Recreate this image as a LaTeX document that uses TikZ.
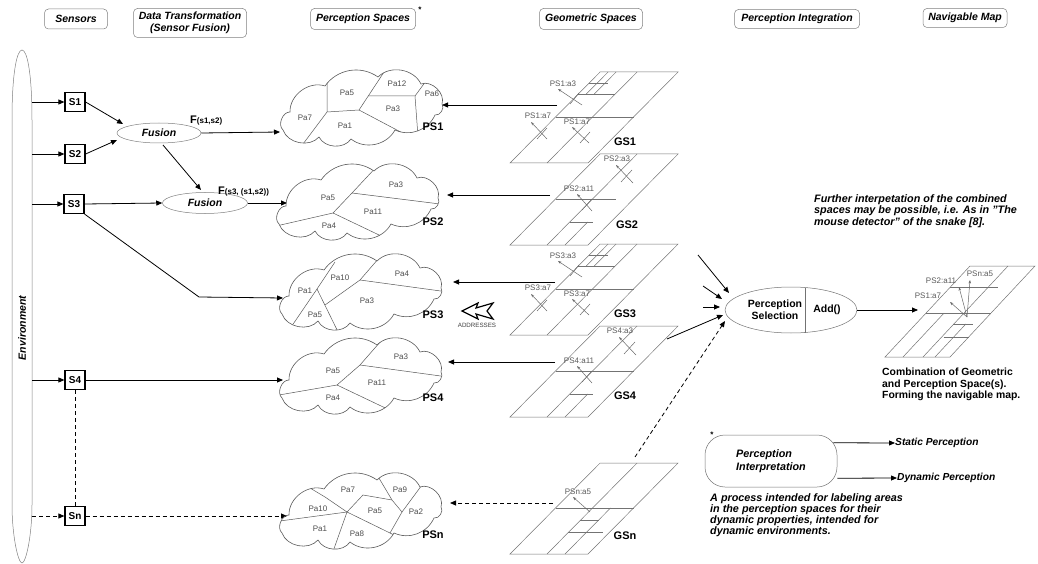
\documentclass[tikz,border=0pt]{standalone}
\usepackage{fontspec}
\setmainfont{Liberation Sans}
\usetikzlibrary{arrows.meta,shapes.geometric,calc}
\newcommand\myfs[1]{\fontsize{#1}{#1}\selectfont}
\newcommand\cloudpath{(-80,22) to[bend left=70] (-73,4) to[bend left=55] (-38,-22) to[bend left=45] (15,-31) to[bend left=55] (58,-24) to[bend left=65] (79,-4) to[bend left=70] (72,7) to[bend left=45] (32,22) to[bend left=50] (-12,31) to[bend left=60] (-44,29) to[bend left=60] (-80,22) -- cycle}
\newcommand\cloudat[3]{\draw[cloudline,shift={(#1,#2)}] \cloudpath;
  \begin{scope}\clip[shift={(#1,#2)}] \cloudpath; #3\end{scope}}
\begin{document}
\begin{tikzpicture}[x=1pt,y=-1pt,
  hdr/.style={draw=black!50, line width=0.5pt, rounded corners=4pt, font=\myfs{10.5}\bfseries\itshape, align=center, inner sep=1pt},
  sensor/.style={draw, line width=1.2pt, minimum width=20pt, minimum height=19pt, inner sep=0pt, font=\myfs{10}\bfseries},
  fus/.style={ellipse, draw=black!50, line width=0.5pt, inner sep=0pt, font=\myfs{10.5}\bfseries\itshape},
  arr/.style={line width=0.8pt, -{Triangle[length=6pt,width=5pt]}},
  darr/.style={arr, dash pattern=on 4pt off 3pt},
  dline/.style={line width=0.8pt, dash pattern=on 4pt off 3pt},
  cloudline/.style={draw=black!65, line width=0.6pt},
  cpart/.style={draw=black!65, line width=0.5pt},
  pa/.style={font=\myfs{8}, text=black!70, inner sep=0pt},
  bigl/.style={font=\myfs{11}\bfseries, inner sep=0pt},
  gsg/.style={draw=black!55, line width=0.5pt},
  gsa/.style={font=\myfs{8}, text=black!65, inner sep=0pt},
  mk/.style={draw=black!60, line width=0.5pt},
  mka/.style={mk, -{Stealth[length=3.5pt,width=2.5pt]}},
  bi/.style={font=\myfs{9.5}\bfseries\itshape, inner sep=0pt, align=left},
]
\useasboundingbox (0,0) rectangle (1038,564);

% ---------------- headers
\node[hdr, minimum width=63pt, minimum height=20pt] (hsens) at (76,19) {Sensors};
\node[hdr, minimum width=113pt, minimum height=29pt, font=\fontsize{10.5}{12.5}\selectfont\bfseries\itshape] (hdata) at (190,23) {Data Transformation\\(Sensor Fusion)};
\node[hdr, minimum width=105pt, minimum height=21pt] (hperc) at (363,19) {Perception Spaces};
\node[font=\myfs{8}\bfseries, inner sep=0pt] (hast) at (420,10) {*};
\node[hdr, minimum width=103pt, minimum height=21pt] (hgeo) at (591,19) {Geometric Spaces};
\node[hdr, minimum width=125pt, minimum height=19pt] (hint) at (797,19) {Perception Integration};
\node[hdr, minimum width=84pt, minimum height=19pt] (hnav) at (965,18) {Navigable Map};

% ---------------- environment
\draw[draw=black!50, line width=0.5pt] (12,120) .. controls (12,72) and (17,50) .. (22,50) .. controls (27,50) and (32,72) .. (32,120) -- (32,505) .. controls (32,535) and (26,563) .. (22,563) .. controls (18,563) and (12,535) .. (12,505) -- cycle;
\node[rotate=90, font=\myfs{10.5}\bfseries\itshape, inner sep=0pt] (envl) at (22,328) {Environment};
\coordinate (e1) at (32,102);
\coordinate (e2) at (32,154);
\coordinate (e3) at (32,204);
\coordinate (e4) at (32,380);
\coordinate (e5) at (32,516);

% ---------------- sensors
\node[sensor] (s1) at (75,102) {S1};
\node[sensor] (s2) at (75,154) {S2};
\node[sensor] (s3) at (74,204) {S3};
\node[sensor] (s4) at (75,380) {S4};
\node[sensor] (sn) at (75,516) {Sn};
\draw[arr] (e1) -- (s1.west);
\draw[arr] (e2) -- (s2.west);
\draw[arr] (e3) -- (s3.west);
\draw[arr] (e4) -- (s4.west);
\draw[darr] (e5) -- (sn.west);
\draw[dline] (s4.south) -- (sn.north);

% ---------------- fusion
\node[fus, minimum width=84pt, minimum height=20pt] (f1) at (159,133) {Fusion};
\node[fus, minimum width=85pt, minimum height=21pt] (f2) at (205,203) {Fusion};
\node[anchor=base west, inner sep=0pt] (f1l) at (190,124) {\myfs{11}\bfseries F\myfs{8}(s1,s2)};
\node[anchor=base west, inner sep=0pt] (f2l) at (218,194) {\myfs{11}\bfseries F\myfs{8}(s3, (s1,s2))};
\coordinate (f1in1) at (123,124);
\coordinate (f1in2) at (117,140);
\coordinate (f1out) at (163,145);
\coordinate (f2in) at (201,190);
\draw[arr] (s1.east) -- (f1in1);
\draw[arr] (s2.east) -- (f1in2);
\draw[arr] (f1out) -- (f2in);
\draw[arr] (s3.east) -- (f2.west);

% ---------------- perception spaces
\coordinate (ps1) at (363,108);
\coordinate (ps2) at (359,202);
\coordinate (ps3) at (362,292);
\coordinate (ps4) at (362,376);
\coordinate (psn) at (362,511);
\coordinate (ps1w) at (280,132);
\coordinate (ps2w) at (287,203);
\coordinate (ps3w) at (283,298);
\coordinate (ps4w) at (283,380);
\coordinate (psnw) at (287,516);
\coordinate (bend3) at (199,297);
\draw[arr] (f1.east) -- (ps1w);
\draw[arr] (f2.east) -- (ps2w);
\draw[arr] (s3.south east) -- (bend3) -- (ps3w);
\draw[arr] (s4.east) -- (ps4w);
\draw[darr] (sn.east) -- (psnw);

\cloudat{363}{108}{
 \draw[cpart] (327,60) -- (327,112) -- (359,110) -- (392,60);
 \draw[cpart] (359,110) -- (412,138);
 \draw[cpart] (327,112) -- (300,148);
 \draw[cpart] (368,96) -- (415,96) -- (440,62);
 \draw[cpart] (415,96) -- (419,150);
}
\node[pa] (p1a) at (347,93) {Pa5};
\node[pa] (p1b) at (397,84) {Pa12};
\node[pa] (p1c) at (432,94) {Pa6};
\node[pa] (p1d) at (393,109) {Pa3};
\node[pa] (p1e) at (305,118) {Pa7};
\node[pa] (p1f) at (345,126) {Pa1};
\node[bigl] (l1) at (433,127) {PS1};

\cloudat{359}{202}{
 \draw[cpart] (250,232) -- (333,213) -- (352,193) -- (395,147);
 \draw[cpart] (352,193) -- (432,203) -- (470,208);
 \draw[cpart] (333,213) -- (400,245);
}
\node[pa] (p2a) at (396,185) {Pa3};
\node[pa] (p2b) at (328,198) {Pa5};
\node[pa] (p2c) at (373,212) {Pa11};
\node[pa] (p2d) at (329,226) {Pa4};
\node[bigl] (l2) at (433,222) {PS2};

\cloudat{362}{292}{
 \draw[cpart] (285,336) -- (317,289) -- (335,262);
 \draw[cpart] (317,289) -- (342,340);
 \draw[cpart] (325,305) -- (360,280) -- (392,243);
 \draw[cpart] (360,280) -- (470,295);
}
\node[pa] (p3a) at (305,291) {Pa1};
\node[pa] (p3b) at (340,278) {Pa10};
\node[pa] (p3c) at (402,274) {Pa4};
\node[pa] (p3d) at (367,301) {Pa3};
\node[pa] (p3e) at (315,315) {Pa5};
\node[bigl] (l3) at (433,315) {PS3};

\cloudat{362}{376}{
 \draw[cpart] (250,400) -- (337,385) -- (360,365) -- (395,325);
 \draw[cpart] (360,365) -- (470,380);
 \draw[cpart] (337,385) -- (400,415);
}
\node[pa] (p4a) at (401,357) {Pa3};
\node[pa] (p4b) at (333,371) {Pa5};
\node[pa] (p4c) at (377,383) {Pa11};
\node[pa] (p4d) at (333,398) {Pa4};
\node[bigl] (l4) at (433,398) {PS4};

\cloudat{362}{511}{
 \draw[cpart] (300,482) -- (325,497) -- (347,512) -- (390,533) -- (410,543);
 \draw[cpart] (250,525) -- (347,512);
 \draw[cpart] (347,512) -- (330,560);
 \draw[cpart] (347,512) -- (363,495) -- (392,500) -- (402,512) -- (390,533);
 \draw[cpart] (392,500) -- (370,463);
 \draw[cpart] (402,512) -- (436,466);
}
\node[pa] (p5a) at (348,490) {Pa7};
\node[pa] (p5b) at (400,490) {Pa9};
\node[pa] (p5c) at (318,509) {Pa10};
\node[pa] (p5d) at (375,511) {Pa5};
\node[pa] (p5e) at (416,512) {Pa2};
\node[pa] (p5f) at (320,529) {Pa1};
\node[pa] (p5g) at (357,534) {Pa8};
\node[bigl] (l5) at (433,535) {PSn};

% ADDRESSES arrow
\draw[line width=1.2pt, line join=miter] (462,311) -- (478,303) -- (476,308) -- (493,303) -- (487,311) -- (493,319) -- (476,314) -- (478,319) -- cycle;
\node[font=\myfs{6.2}, text=black!75, inner sep=0pt] (addr) at (477,325) {ADDRESSES};

% ---------------- geometric spaces
% GS1
\begin{scope}[shift={(510,163)}, x={(1pt,0pt)}, y={(0.99pt,1pt)}]
 \draw[gsg] (0,0) -- (78,0) -- (78,91) -- (0,91) -- cycle;
 \draw[gsg] (0,46) -- (78,46);
 \draw[gsg] (0,69) -- (37,69);
 \draw[gsg] (0,80) -- (19,80);
 \draw[gsg] (37,0) -- (37,91);
 \draw[gsg] (8,69) -- (8,91);
 \draw[gsg] (16,69) -- (16,91);
\end{scope}
% GS3
\begin{scope}[shift={(510,335)}, x={(1pt,0pt)}, y={(0.99pt,1pt)}]
 \draw[gsg] (0,0) -- (78,0) -- (78,91) -- (0,91) -- cycle;
 \draw[gsg] (0,46) -- (78,46);
 \draw[gsg] (0,69) -- (37,69);
 \draw[gsg] (0,80) -- (19,80);
 \draw[gsg] (37,0) -- (37,91);
 \draw[gsg] (8,69) -- (8,91);
 \draw[gsg] (16,69) -- (16,91);
\end{scope}
% GS2
\begin{scope}[shift={(510,245)}, x={(1pt,0pt)}, y={(0.99pt,1pt)}]
 \draw[gsg] (0,0) -- (78,0) -- (78,91) -- (0,91) -- cycle;
 \draw[gsg] (0,46) -- (60,46);
 \draw[gsg] (37,23) -- (60,23);
 \draw[gsg] (37,0) -- (37,91);
 \draw[gsg] (55,0) -- (55,23);
\end{scope}
% GS4
\begin{scope}[shift={(510,417)}, x={(1pt,0pt)}, y={(0.99pt,1pt)}]
 \draw[gsg] (0,0) -- (78,0) -- (78,91) -- (0,91) -- cycle;
 \draw[gsg] (0,46) -- (78,46);
 \draw[gsg] (37,23) -- (60,23);
 \draw[gsg] (37,0) -- (37,91);
 \draw[gsg] (55,0) -- (55,23);
\end{scope}
% GSn
\begin{scope}[shift={(510,554)}, x={(1pt,0pt)}, y={(0.99pt,1pt)}]
 \draw[gsg] (0,0) -- (78,0) -- (78,91) -- (0,91) -- cycle;
 \draw[gsg] (0,46) -- (78,46);
 \draw[gsg] (36,34) -- (55,34);
 \draw[gsg] (36,22) -- (71,22);
 \draw[gsg] (37,0) -- (37,91);
 \draw[gsg] (55,0) -- (55,46);
\end{scope}

% GS marks
\node[gsa] (g1a) at (563,84) {PS1:a3};
\draw[mka] (582,105) -- (558,89);
\draw[mk] (570,104) -- (579,93);
\node[gsa] (g1b) at (538,116) {PS1:a7};
\draw[mka] (547,139) -- (531,122);
\draw[mk] (537,139) -- (547,128);
\node[gsa] (g1c) at (577,122) {PS1:a7};
\draw[mka] (589,143) -- (572,127);
\draw[mk] (580,143) -- (590,132);

\node[gsa] (g3a) at (563,256) {PS3:a3};
\draw[mka] (582,277) -- (558,261);
\draw[mk] (570,276) -- (579,265);
\node[gsa] (g3b) at (538,288) {PS3:a7};
\draw[mka] (547,311) -- (531,294);
\draw[mk] (537,311) -- (547,300);
\node[gsa] (g3c) at (577,294) {PS3:a7};
\draw[mka] (589,315) -- (572,299);
\draw[mk] (580,315) -- (590,304);

\node[gsa] (g2a) at (617,159) {PS2:a3};
\draw[mka] (633,183) -- (616,165);
\draw[mk] (621,182) -- (632,170);
\node[gsa] (g2b) at (579,189) {PS2:a11};
\draw[mka] (592,211) -- (577,194);
\draw[mk] (582,210) -- (592,199);

\node[gsa] (g4a) at (620,331) {PS4:a3};
\draw[mka] (636,355) -- (619,337);
\draw[mk] (624,354) -- (635,342);
\node[gsa] (g4b) at (579,361) {PS4:a11};
\draw[mka] (592,383) -- (577,366);
\draw[mk] (582,382) -- (592,371);

\node[gsa] (gna) at (578,492) {PSn:a5};
\draw[mka] (590,512) -- (573,497);

\node[bigl] (gs1) at (625,142) {GS1};
\node[bigl] (gs2) at (627,225) {GS2};
\node[bigl] (gs3) at (625,314) {GS3};
\node[bigl] (gs4) at (625,396) {GS4};
\node[bigl] (gsn) at (625,536) {GSn};

% GS -> PS arrows
\coordinate (gs1o) at (557,105);
\coordinate (gs2o) at (550,195);
\coordinate (gs3o) at (555,282);
\coordinate (gs4o) at (555,362);
\coordinate (gsno) at (553,503);
\coordinate (ps1e) at (442,105);
\coordinate (ps2e) at (447,195);
\coordinate (ps3e) at (453,282);
\coordinate (ps4e) at (448,362);
\coordinate (psne) at (450,503);
\draw[arr] (gs1o) -- (ps1e);
\draw[arr] (gs2o) -- (ps2e);
\draw[arr] (gs3o) -- (ps3e);
\draw[arr] (gs4o) -- (ps4e);
\draw[darr] (gsno) -- (psne);

% ---------------- perception integration
\node[ellipse, draw=black!55, line width=0.5pt, minimum width=132pt, minimum height=46pt, inner sep=0pt] (psel) at (791,310) {};
\draw[draw=black!55, line width=0.5pt] (805,287.5) -- (805,332.5);
\node[font=\fontsize{10.5}{12}\selectfont\bfseries, align=center, inner sep=0pt] (pselt) at (775,310) {Perception\\Selection};
\node[font=\myfs{10.5}\bfseries, inner sep=0pt] (addt) at (827,310) {Add()};
\coordinate (pin1s) at (698,255);
\coordinate (pin1e) at (729,293);
\coordinate (pin2s) at (703,286);
\coordinate (pin2e) at (722,299);
\coordinate (pin3s) at (703,307);
\coordinate (pin3e) at (720,307);
\coordinate (pin4s) at (667,339);
\coordinate (pin4e) at (723,315);
\coordinate (pin5s) at (635,457);
\coordinate (pin5e) at (725,321);
\draw[arr] (pin1s) -- (pin1e);
\draw[arr] (pin2s) -- (pin2e);
\draw[arr] (pin3s) -- (pin3e);
\draw[arr] (pin4s) -- (pin4e);
\draw[darr] (pin5s) -- (pin5e);

% ---------------- navigable map
\coordinate (mapin) at (918,310);
\draw[arr] (psel.east) -- (mapin);
\begin{scope}[shift={(885,357)}, x={(1pt,0pt)}, y={(0.934pt,1pt)}]
 \draw[gsg] (0,0) -- (65,0) -- (65,91) -- (0,91) -- cycle;
 \draw[gsg] (0,44) -- (65,44);
 \draw[gsg] (0,70) -- (48,70);
 \draw[gsg] (37,33) -- (57,33);
 \draw[gsg] (40,20) -- (65,20);
 \draw[gsg] (18,0) -- (18,44);
 \draw[gsg] (38,0) -- (38,91);
 \draw[gsg] (50,0) -- (50,33);
\end{scope}
\node[gsa] (m1) at (928,296) {PS1:a7};
\node[gsa] (m2) at (941,281) {PS2:a11};
\node[gsa] (m3) at (980,274) {PSn:a5};
\coordinate (mp) at (967,317);
\draw[mka] (mp) -- (950,302);
\draw[mka] (mp) -- (959,287);
\draw[mka] (mp) -- (970,280);

\node[bi, anchor=north west, font=\fontsize{10.8}{11.5}\selectfont\bfseries\itshape] (further) at (814,194) {Further interpetation of the combined\\spaces may be possible, i.e. As in "The\\mouse detector" of the snake [8].};
\node[anchor=north west, align=left, inner sep=0pt, font=\fontsize{10.4}{11.5}\selectfont\bfseries] (comb) at (882,368) {Combination of Geometric\\and Perception Space(s).\\Forming the navigable map.};

% ---------------- legend
\node[font=\myfs{8}\bfseries, inner sep=0pt] (ast2) at (712,435) {*};
\node[draw=black!55, line width=0.5pt, rounded corners=20pt, minimum width=132pt, minimum height=52pt, align=left, font=\fontsize{10.8}{12.5}\selectfont\bfseries\itshape] (pint) at (771,461) {Perception\\Interpretation};
\node[anchor=west, inner sep=0pt, font=\myfs{10.2}\bfseries\itshape] (stat) at (895,443) {Static Perception};
\node[anchor=west, inner sep=0pt, font=\myfs{10.2}\bfseries\itshape] (dyn) at (897,478) {Dynamic Perception};
\draw[arr] ($(pint.north east)+(-4,8)$) -- (stat.west);
\draw[arr] ($(pint.south east)+(0,-9)$) -- (dyn.west);
\node[bi, anchor=north west, font=\fontsize{10.8}{11.3}\selectfont\bfseries\itshape] (proc) at (710,493) {A process intended for labeling areas\\in the perception spaces for their\\dynamic properties, intended for\\dynamic environments.};
\end{tikzpicture}
\end{document}
